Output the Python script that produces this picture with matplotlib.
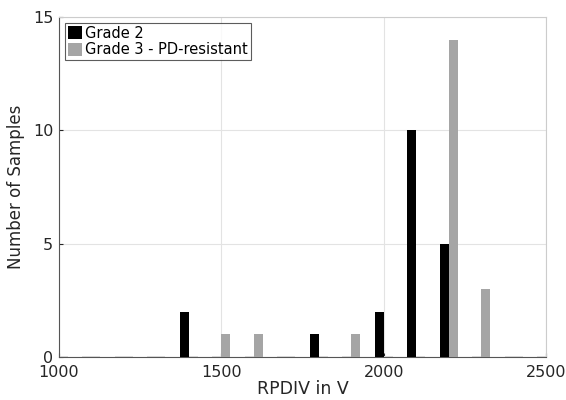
import matplotlib
matplotlib.use("Agg")
import matplotlib.pyplot as plt
import numpy as np

centers = [1000, 1100, 1200, 1300, 1400, 1500, 1600, 1700, 1800, 1900,
           2000, 2100, 2200, 2300, 2400, 2500]
grade2 = [0, 0, 0, 0, 2, 0, 0, 0, 1, 0, 2, 10, 5, 0, 0, 0]
grade3 = [0, 0, 0, 0, 0, 1, 1, 0, 0, 1, 0, 0, 14, 3, 0, 0]
labels = ["Grade 2", "Grade 3 - PD-resistant"]
xticks = [1000, 1500, 2000, 2500]
yticks = [0, 5, 10, 15]

fig = plt.figure(figsize=(5.66, 4.00), dpi=100)
ax = fig.add_axes([0.104, 0.1075, 0.861, 0.85])

w = 28
c = np.array(centers, dtype=float)
for vals, off, col, lab in [(grade2, -w / 2, "#000000", labels[0]),
                            (grade3, w / 2, "#a5a5a5", labels[1])]:
    v = np.array(vals, dtype=float)
    nz = v > 0
    ax.bar(c[nz] + off, v[nz], width=w, color=col, edgecolor="none", label=lab, zorder=3)
    ax.bar(c[~nz] + off, v[~nz] + 0.05, width=w, color="#dddddd",
           edgecolor="none", zorder=2)

ax.set_xlim(1000, 2500)
ax.set_ylim(0, 15)
ax.set_xticks(xticks)
ax.set_yticks(yticks)
ax.grid(True, color="#e3e3e3", linewidth=0.8, zorder=0)
ax.tick_params(direction="in", length=3, labelsize=11.5, colors="#262626", pad=4)
ax.tick_params(axis="x", pad=6)
for s in ["left", "bottom"]:
    ax.spines[s].set_color("#555555")
    ax.spines[s].set_linewidth(0.8)
for s in ["top", "right"]:
    ax.spines[s].set_color("#cccccc")
    ax.spines[s].set_linewidth(0.8)

ax.set_xlabel("RPDIV in V", fontsize=12.5, color="#262626", labelpad=0)
ax.set_ylabel("Number of Samples", fontsize=12, color="#262626", labelpad=6)

leg = ax.legend(loc="upper left", fontsize=10.5, frameon=True, fancybox=False,
                handlelength=1.0, handleheight=1.0, handletextpad=0.2,
                borderpad=0.2, labelspacing=0.1, borderaxespad=0.4)
leg.get_frame().set_edgecolor("#333333")
leg.get_frame().set_linewidth(0.8)

fig.savefig("out.png", dpi=100)
